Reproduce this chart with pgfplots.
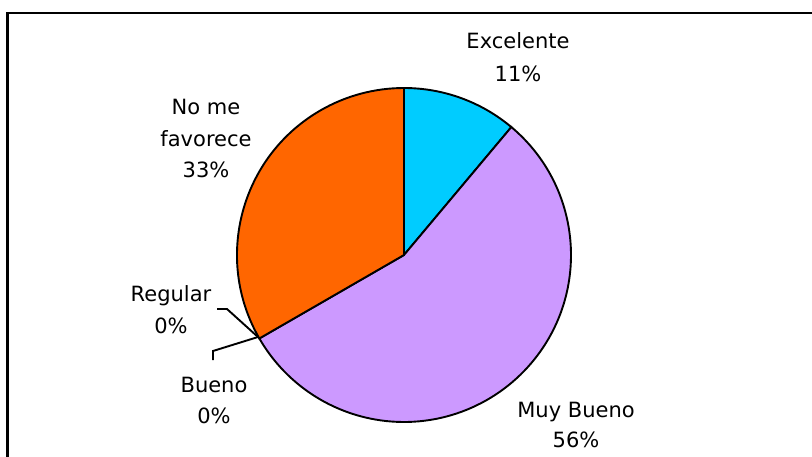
\documentclass[border=0pt]{standalone}
\usepackage{fontspec}
\setmainfont{DejaVu Sans}
\usepackage{pgfplots}
\pgfplotsset{compat=1.18}
\definecolor{cExc}{HTML}{00CCFF}
\definecolor{cMuy}{HTML}{CC99FF}
\definecolor{cNo}{HTML}{FF6600}

% data (percent)
\def\vExc{11.11}
\def\vMuy{55.56}
\def\vBue{0}
\def\vReg{0}
\def\vNo{33.33}
% slice angles, clockwise from 12 o'clock
\pgfmathsetmacro\aA{90}
\pgfmathsetmacro\aB{\aA-3.6*\vExc}
\pgfmathsetmacro\aC{\aB-3.6*\vMuy}
\pgfmathsetmacro\aD{\aC-3.6*\vBue}
\pgfmathsetmacro\aE{\aD-3.6*\vReg}
\pgfmathsetmacro\aF{\aE-3.6*\vNo}
\def\R{167pt}

\begin{document}
\begin{tikzpicture}
\begin{axis}[
  scale only axis, width=812pt, height=456pt,
  xmin=0, xmax=812, ymin=0, ymax=456,
  axis lines=none, ticks=none,
  clip=true,
]
  \path (axis cs:0,0) rectangle (axis cs:812,456);
  % frame
  \draw[line width=2.2pt] (axis cs:7.5,-10) -- (axis cs:7.5,443.3) -- (axis cs:830,443.3);
  % slices
  \draw[line width=1.9pt, fill=cExc] (axis cs:404,201) -- ++(\aA:\R) arc[start angle=\aA, end angle=\aB, radius=\R] -- cycle;
  \draw[line width=1.9pt, fill=cMuy] (axis cs:404,201) -- ++(\aB:\R) arc[start angle=\aB, end angle=\aC, radius=\R] -- cycle;
  \draw[line width=1.9pt, fill=cNo] (axis cs:404,201) -- ++(\aE:\R) arc[start angle=\aE, end angle=\aF, radius=\R] -- cycle;
  % leader lines
  \draw[line width=1.9pt] (axis cs:217,147) -- (axis cs:227,147) -- (axis cs:258,119);
  \draw[line width=1.9pt] (axis cs:213,96) -- (axis cs:213,105) -- (axis cs:258,119);
  % labels
  \begin{scope}[every node/.style={inner sep=0pt, anchor=base, font=\fontsize{21}{32}\selectfont}]
    \node at (axis cs:518,407) {Excelente};
    \node at (axis cs:518,374) {11\%};
    \node at (axis cs:206,341) {No me};
    \node at (axis cs:206,309) {favorece};
    \node at (axis cs:206,278) {33\%};
    \node at (axis cs:171,154) {Regular};
    \node at (axis cs:171,123) {0\%};
    \node at (axis cs:214,64) {Bueno};
    \node at (axis cs:214,33) {0\%};
    \node at (axis cs:576,39) {Muy Bueno};
    \node at (axis cs:576,9) {56\%};
  \end{scope}
\end{axis}
\end{tikzpicture}
\end{document}
